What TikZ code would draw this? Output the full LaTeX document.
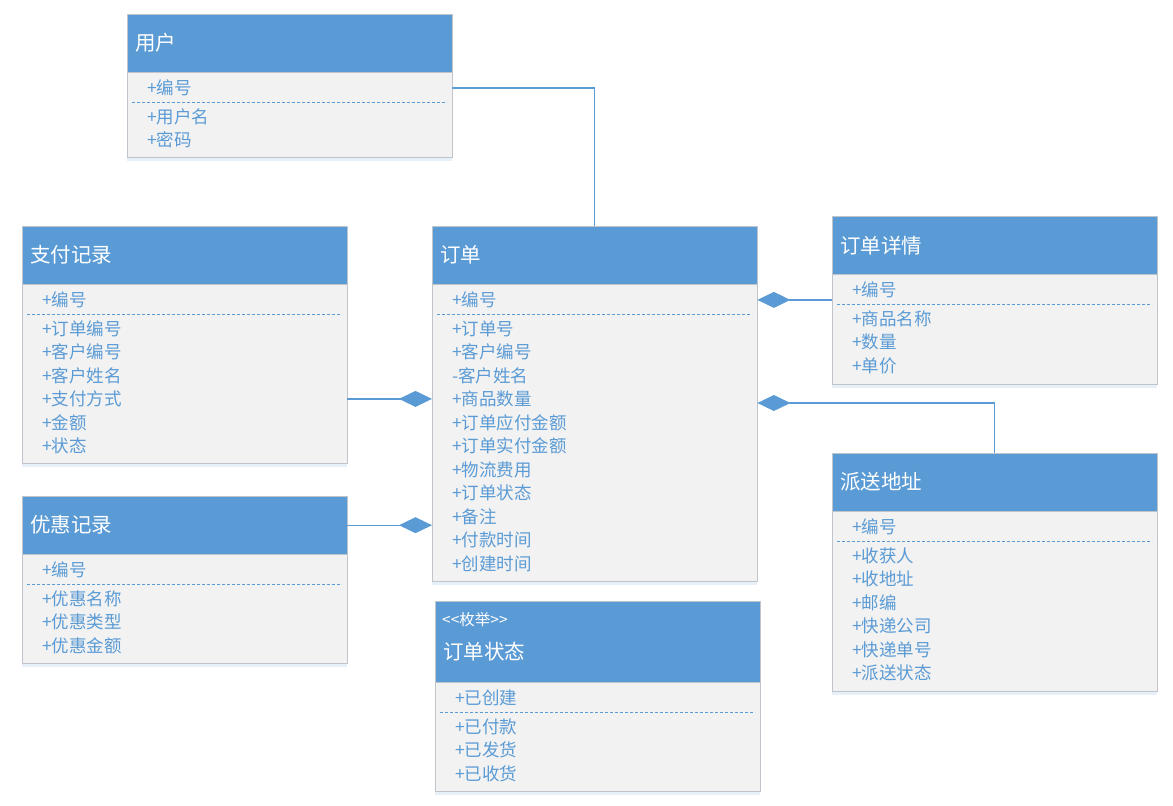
\documentclass[tikz,border=0pt]{standalone}
\usepackage{fontspec}
\setmainfont{Noto Sans CJK SC}
\usepackage{xcolor}
\definecolor{umlblue}{RGB}{91,155,213}
\definecolor{umlgray}{RGB}{242,242,242}
\definecolor{umlline}{RGB}{192,197,204}
\usepackage{tikz}
\usetikzlibrary{arrows.meta}
\usetikzlibrary{shadows}
\newcommand{\titlesize}{\fontsize{20.5pt}{24pt}\selectfont}
\newcommand{\attrsize}{\fontsize{17.5pt}{20pt}\selectfont}
\newcommand{\stereosize}{\fontsize{15.5pt}{18pt}\selectfont}
\tikzset{
    common/.style={draw=umlline, rectangle, anchor=north west, inner sep=0pt, minimum width=325pt},
    head/.style={common, fill=umlblue, minimum height=58pt},
    body/.style={common, fill=umlgray, drop shadow={shadow xshift=0pt, shadow yshift=-3pt, opacity=0.15, fill=umlblue}},
    title/.style={anchor=west, text=white, font=\titlesize, inner sep=0pt},
    attr/.style={anchor=west, text=umlblue, font=\attrsize, inner sep=0pt},
    sep/.style={umlblue, line width=0.9pt, dash pattern=on 3pt off 2pt},
    link/.style={umlblue, line width=1.4pt},
    comp/.style={link, -{Diamond[length=33pt, width=16pt]}}
}
% #1 header height, #2 name, #3 position, #4 title, #5 key, #6 attributes, #7 body height
\newcommand{\umlclass}[7][58pt]{%
    \node[head, minimum height=#1] (#2-head) at #3 {};
    \node[title] (#2-title) at ([xshift=8pt]#2-head.west) {#4};
    \node[body, minimum height=#7] (#2-body) at (#2-head.south west) {};
    \begin{scope}[shift={(#2-body.north west)}]
        \node[attr] (#2-key) at (20,15.5) {#5};
        \draw[sep] (5,30) -- (320,30);
        \foreach \txt [count=\i] in {#6}
            \node[attr] (#2-\i) at (20,{44+(\i-1)*23.5}) {\txt};
    \end{scope}
}

\begin{document}
\begin{tikzpicture}[x=1pt, y=-1pt]
    \useasboundingbox (0,0) rectangle (1173,806);

    \umlclass{user}{(127,14)}{用户}{+编号}{+用户名, +密码}{85pt}
    \umlclass{pay}{(22,226)}{支付记录}{+编号}{+订单编号, +客户编号, +客户姓名, +支付方式, +金额, +状态}{179pt}
    \umlclass{ord}{(432,226)}{订单}{+编号}{+订单号, +客户编号, -客户姓名, +商品数量, +订单应付金额, +订单实付金额, +物流费用, +订单状态, +备注, +付款时间, +创建时间}{297pt}
    \umlclass{det}{(832,216)}{订单详情}{+编号}{+商品名称, +数量, +单价}{110pt}
    \umlclass{disc}{(22,496)}{优惠记录}{+编号}{+优惠名称, +优惠类型, +优惠金额}{109pt}
    \umlclass{ship}{(832,453)}{派送地址}{+编号}{+收获人, +收地址, +邮编, +快递公司, +快递单号, +派送状态}{180pt}
    \umlclass[81pt]{state}{(435,601)}{}{+已创建}{+已付款, +已发货, +已收货}{109pt}
    \node[title, font=\stereosize] (state-stereo) at ([xshift=7pt, yshift=-19pt]state-head.north west) {<\kern0pt<枚举>\kern0pt>};
    \node[title] (state-name) at ([xshift=8pt, yshift=-51pt]state-head.north west) {订单状态};

    \draw[link] (user-key -| user-body.east) -| (ord-head.north);
    \draw[comp] (pay-4 -| pay-body.east) -- (pay-4 -| ord-body.west);
    \draw[comp] (disc-head.east) -- (disc-head.east -| ord-body.west);
    \draw[comp] (ord-key -| det-body.west) -- (ord-key -| ord-body.east);
    \coordinate (ship-bend) at (ship-head.north |- 0,403);
    \draw[comp] (ship-head.north) -- (ship-bend) -- (ship-bend -| ord-body.east);
\end{tikzpicture}
\end{document}
